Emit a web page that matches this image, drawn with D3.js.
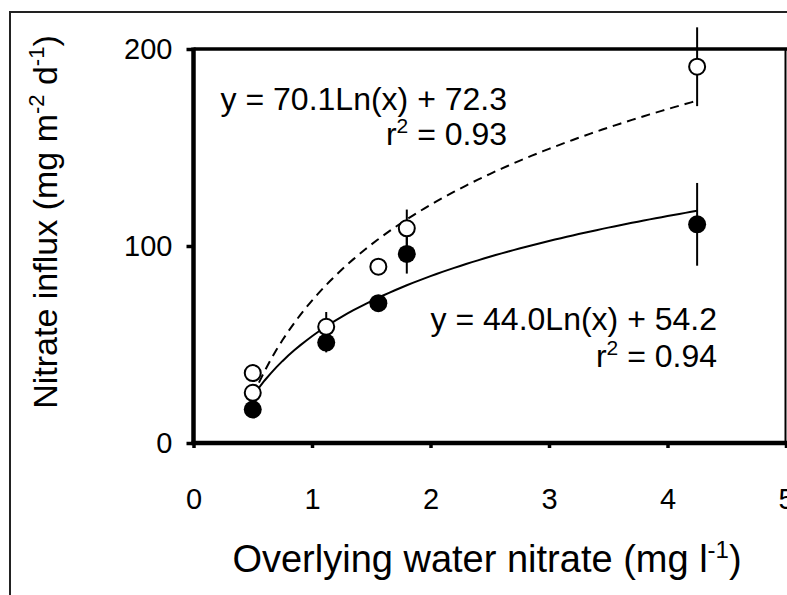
<!DOCTYPE html>
<html>
<head>
<meta charset="utf-8">
<script src="https://cdn.jsdelivr.net/npm/d3@7"></script>
<style>
  body { margin: 0; background: #fff; }
  text { font-family: "Liberation Sans", Arial, sans-serif; fill: #000; }
</style>
</head>
<body>
<div id="chart"></div>
<script>
// values
var xTicks = [0, 1, 2, 3, 4, 5];
var yTicks = [0, 100, 200];

// filled circles (solid fit)
var filledX = [0.5, 1.12, 1.56, 1.80, 4.25];
var filledY = [17, 51, 71, 96, 111];
var filledErr = [0, 5, 0, 10, 21];

// open circles (dashed fit)
var openX = [0.5, 0.5, 1.12, 1.56, 1.80, 4.25];
var openY = [35.5, 25.5, 59, 89.5, 109, 191];
var openErr = [0, 0, 7.5, 0, 9.5, 20];

// printed log fits: y = a Ln(x) + b
var solidFit = [44.0, 54.2];
var dashedFit = [70.1, 72.3];
var fitRange = [0.5, 4.25];

var width = 787, height = 595;

var svg = d3.select("#chart")
  .append("svg")
    .attr("width", width)
    .attr("height", height);

// outer frame
svg.append("rect")
  .attr("x", 10).attr("y", 12)
  .attr("width", 800).attr("height", 600)
  .attr("fill", "none")
  .attr("stroke", "#222")
  .attr("stroke-width", 2);

var x = d3.scaleLinear().domain([0, 5]).range([193.5, 786]);
var y = d3.scaleLinear().domain([0, 200]).range([443, 49]);

// plot frame: top and right
svg.append("line")
  .attr("x1", x(0)).attr("x2", width + 5)
  .attr("y1", y(200)).attr("y2", y(200))
  .attr("stroke", "#000").attr("stroke-width", 3.5);
svg.append("line")
  .attr("x1", x(5) - 0.5).attr("x2", x(5) - 0.5)
  .attr("y1", y(200)).attr("y2", y(0))
  .attr("stroke", "#000").attr("stroke-width", 2);

// axes
var xAxis = svg.append("g")
  .attr("transform", "translate(0," + y(0) + ")")
  .call(d3.axisBottom(x).tickValues(xTicks).tickSize(5).tickPadding(40).tickFormat(d3.format("d")));
var yAxis = svg.append("g")
  .attr("transform", "translate(" + x(0) + ",0)")
  .call(d3.axisLeft(y).tickValues(yTicks).tickSize(7).tickPadding(14));

[xAxis, yAxis].forEach(function(g) {
  g.select(".domain").attr("stroke", "#000").attr("stroke-width", 4.5);
  g.selectAll(".tick line").attr("stroke", "#000").attr("stroke-width", 3.5);
  g.selectAll(".tick text")
    .attr("font-size", 29)
    .attr("font-family", "Liberation Sans, Arial, sans-serif")
    .attr("fill", "#000");
});
xAxis.select(".domain").attr("d", "M" + (x(0) - 2) + ",0H" + (width + 5));
yAxis.select(".domain").attr("d", "M0," + (y(200) - 1.5) + "V" + (y(0) + 2));

// fit curves
var xs = d3.range(fitRange[0], fitRange[1] + 0.0001, 0.05);
function fitLine(c) {
  return d3.line()
    .x(function(d) { return x(d); })
    .y(function(d) { return y(c[0] * Math.log(d) + c[1]); })(xs);
}
svg.append("path")
  .attr("d", fitLine(dashedFit))
  .attr("fill", "none").attr("stroke", "#000")
  .attr("stroke-width", 2).attr("stroke-dasharray", "9,6");
svg.append("path")
  .attr("d", fitLine(solidFit))
  .attr("fill", "none").attr("stroke", "#000")
  .attr("stroke-width", 2);

// error bars
function errBars(xv, yv, ev) {
  svg.selectAll(null)
    .data(d3.range(xv.length).filter(function(i) { return ev[i] > 0; }))
    .enter().append("line")
    .attr("x1", function(i) { return x(xv[i]); })
    .attr("x2", function(i) { return x(xv[i]); })
    .attr("y1", function(i) { return y(yv[i] - ev[i]); })
    .attr("y2", function(i) { return y(yv[i] + ev[i]); })
    .attr("stroke", "#000").attr("stroke-width", 2);
}
errBars(openX, openY, openErr);
errBars(filledX, filledY, filledErr);

// points
svg.selectAll(null)
  .data(d3.range(filledX.length))
  .enter().append("circle")
  .attr("cx", function(i) { return x(filledX[i]); })
  .attr("cy", function(i) { return y(filledY[i]); })
  .attr("r", 9)
  .attr("fill", "#000");
svg.selectAll(null)
  .data(d3.range(openX.length))
  .enter().append("circle")
  .attr("cx", function(i) { return x(openX[i]); })
  .attr("cy", function(i) { return y(openY[i]); })
  .attr("r", 8)
  .attr("fill", "#fff")
  .attr("stroke", "#000").attr("stroke-width", 2);

// equations
function eqn(c, r2, xr, y1, y2) {
  svg.append("text")
    .attr("x", xr).attr("y", y1)
    .attr("text-anchor", "end")
    .attr("font-size", 32)
    .text("y = " + c[0].toFixed(1) + "Ln(x) + " + c[1].toFixed(1));
  var t = svg.append("text")
    .attr("x", xr).attr("y", y2)
    .attr("text-anchor", "end")
    .attr("font-size", 32);
  t.append("tspan").text("r");
  t.append("tspan").attr("dy", -12).attr("font-size", 21).text("2");
  t.append("tspan").attr("dy", 12).text(" = " + r2);
}
eqn(dashedFit, "0.93", 507, 110, 145);
eqn(solidFit, "0.94", 717, 330, 367);

// axis titles
var xt = svg.append("text")
  .attr("x", 487).attr("y", 572)
  .attr("text-anchor", "middle")
  .attr("font-size", 38);
xt.append("tspan").text("Overlying water nitrate (mg l");
xt.append("tspan").attr("dy", -14).attr("font-size", 24).text("-1");
xt.append("tspan").attr("dy", 14).text(")");

var yt = svg.append("text")
  .attr("transform", "translate(57,222) rotate(-90)")
  .attr("text-anchor", "middle")
  .attr("font-size", 34);
yt.append("tspan").text("Nitrate influx (mg m");
yt.append("tspan").attr("dy", -13).attr("font-size", 22).text("-2");
yt.append("tspan").attr("dy", 13).text(" d");
yt.append("tspan").attr("dy", -13).attr("font-size", 22).text("-1");
yt.append("tspan").attr("dy", 13).text(")");
</script>
</body>
</html>
